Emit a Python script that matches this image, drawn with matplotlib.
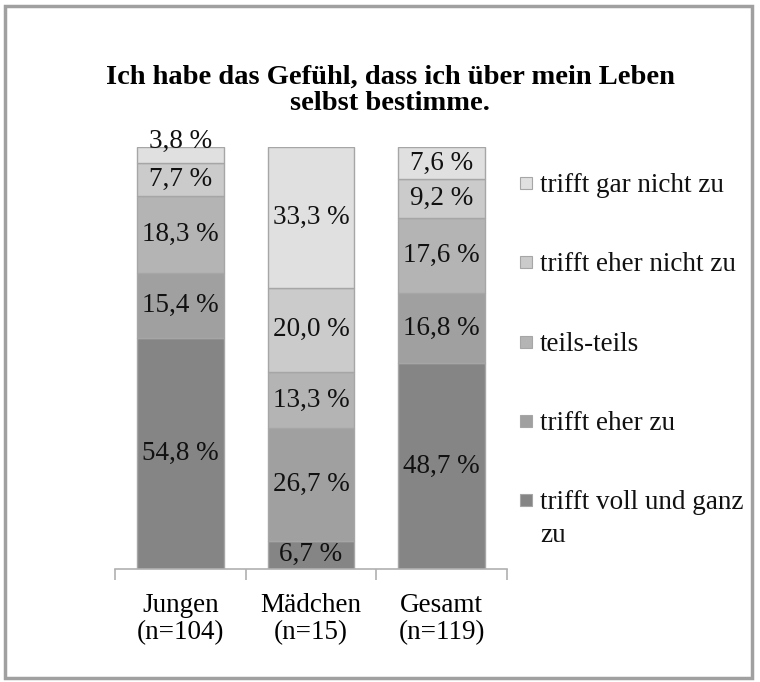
import matplotlib
matplotlib.use("Agg")
import matplotlib.pyplot as plt
from matplotlib.patches import Rectangle
import numpy as np

plt.rcParams['font.family'] = ['Liberation Serif', 'DejaVu Serif']

categories = ["Jungen\n(n=104)", "Mädchen\n(n=15)", "Gesamt\n(n=119)"]
series_names = ["trifft voll und ganz\nzu", "trifft eher zu", "teils-teils",
                "trifft eher nicht zu", "trifft gar nicht zu"]
voll = [54.8, 6.7, 48.7]
eher_zu = [15.4, 26.7, 16.8]
teils = [18.3, 13.3, 17.6]
eher_nicht = [7.7, 20.0, 9.2]
gar_nicht = [3.8, 33.3, 7.6]
series = [voll, eher_zu, teils, eher_nicht, gar_nicht]
colors = ["#858585", "#a0a0a0", "#b4b4b4", "#cbcbcb", "#e0e0e0"]

W, H = 760, 682
fig = plt.figure(figsize=(W/100, H/100), dpi=100)
fig.patches.append(Rectangle((5/W, 4/H), 747/W, 672/H, transform=fig.transFigure,
                             fill=False, edgecolor="#a0a0a0", linewidth=2.5))

ax = fig.add_axes([115/W, 1-569/H, 392/W, 422/H])
x = np.arange(len(categories))
bottom = np.zeros(len(categories))
for name, vals, col in zip(series_names, series, colors):
    vals = np.array(vals)
    ax.bar(x, vals, 0.665, bottom=bottom, color=col, edgecolor="#a6a6a6",
           linewidth=1, label=name)
    for xi, b, v in zip(x, bottom, vals):
        yc = b + v/2
        if v < 5:
            yc = b + v + 1.3
        ax.text(xi, yc, f"{v:.1f} %".replace(".", ","), ha="center", va="center",
                fontsize=19.5, color="#111111")
    bottom += vals

ax.set_xlim(-0.5, 2.5)
ax.set_ylim(0, 100)
for s in ["top", "right", "left"]:
    ax.spines[s].set_visible(False)
ax.spines["bottom"].set_color("#b0b0b0")
ax.spines["bottom"].set_linewidth(1.2)
ax.set_yticks([])
ax.set_xticks(x)
ax.set_xticklabels(categories, fontsize=19.5, linespacing=1.15)
ax.tick_params(axis="x", which="major", length=0, pad=17)
ax.set_xticks([-0.5, 0.5, 1.5, 2.5], minor=True)
ax.tick_params(axis="x", which="minor", length=8, color="#b0b0b0", width=1.2)

fig.text(390/W, 1-90.5/H, "Ich habe das Gefühl, dass ich über mein Leben\nselbst bestimme.",
         ha="center", va="center", fontsize=20.5, fontweight="bold", linespacing=1.1)

# legend (top entry = last series)
leg_y0, leg_dy = 183, 79.3
for i, (name, col) in enumerate(zip(series_names[::-1], colors[::-1])):
    yc = leg_y0 + i*leg_dy
    fig.patches.append(Rectangle((520/W, 1-(yc+6)/H), 12/W, 12/H,
                                 transform=fig.transFigure, facecolor=col,
                                 edgecolor="#a6a6a6", linewidth=0.8))
    fig.text(540/W, 1-(yc-10)/H, name, ha="left", va="top", fontsize=19.5,
             linespacing=1.4, color="#111111")

fig.savefig("out.png", dpi=100)
